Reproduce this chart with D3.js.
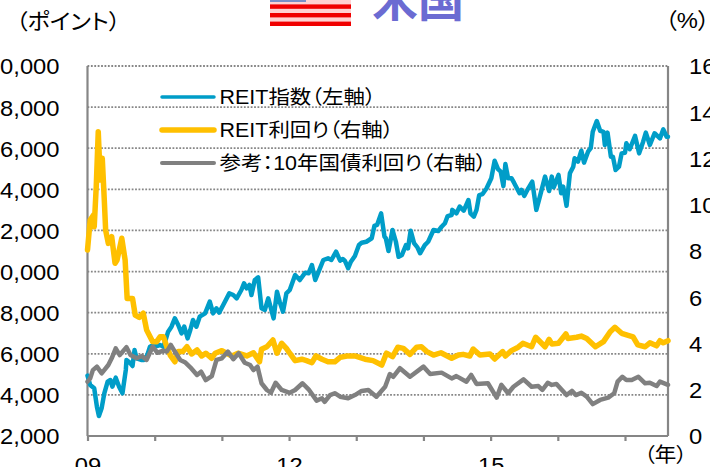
<!DOCTYPE html>
<html>
<head>
<meta charset="utf-8">
<script src="https://cdn.jsdelivr.net/npm/d3@7"></script>
<style>
  html, body { margin: 0; padding: 0; background: #fff; overflow: hidden; }
  svg { display: block; }
  text { font-family: "Liberation Sans", "Noto Sans CJK JP", sans-serif; fill: #000; }
  .jp { font-feature-settings: "palt"; }
  .domain { display: none; }
</style>
</head>
<body>
<svg id="chart" width="710" height="467"></svg>
<script>
// Times are years since the start of 2009.
const indexTimes = [0,.04,.10,.14,.17,.21,.25,.30,.34,.37,.42,.47,.52,.57,.58,.64,.67,.70,.73,.81,.84,.89,.93,.98,1.03,1.08,1.13,1.17,1.20,1.25,1.30,1.35,1.40,1.44,1.49,1.53,1.57,1.62,1.67,1.75,1.82,1.87,1.92,1.96,2.02,2.11,2.17,2.22,2.29,2.33,2.37,2.41,2.44,2.49,2.54,2.59,2.64,2.69,2.77,2.82,2.86,2.91,2.96,3.01,3.09,3.16,3.24,3.29,3.34,3.39,3.44,3.51,3.58,3.63,3.70,3.76,3.80,3.83,3.88,3.92,3.98,4.04,4.08,4.15,4.23,4.27,4.31,4.37,4.42,4.44,4.48,4.54,4.59,4.63,4.68,4.74,4.77,4.81,4.86,4.91,4.95,5.02,5.07,5.15,5.22,5.27,5.32,5.36,5.42,5.43,5.49,5.54,5.60,5.67,5.70,5.75,5.79,5.83,5.88,5.94,6.01,6.06,6.11,6.15,6.19,6.22,6.26,6.31,6.35,6.43,6.46,6.50,6.56,6.62,6.68,6.73,6.81,6.87,6.91,6.94,7.01,7.05,7.08,7.13,7.18,7.23,7.25,7.30,7.35,7.39,7.45,7.49,7.52,7.58,7.63,7.68,7.70,7.74,7.79,7.82,7.86,7.91,7.95,8.00,8.02,8.07,8.15,8.21,8.27,8.31,8.37,8.44,8.52,8.57,8.62,8.64];
const indexValues = [4935,4481,4319,3427,2973,3346,4076,4643,4724,4400,4838,4400,4076,5211,5697,5535,5405,6184,5778,5697,5697,5940,6346,6427,6378,6427,6346,6751,7076,7319,7724,7400,6995,7319,6751,7157,7643,7319,7805,7967,8535,7967,8211,8000,8373,8940,8859,8697,9103,9427,9184,9346,8859,9589,9719,8211,8130,8697,7724,9021,8535,8049,8940,9103,9832,9589,9946,9913,10319,9589,9994,10562,10643,10562,10967,10530,10610,10530,10160,10480,10760,11290,11400,11450,11620,12220,12270,12830,11700,11620,11000,12020,11450,10720,10810,11290,11130,11990,11380,11180,10890,11290,11450,12020,11970,12180,12350,12700,12750,13000,12830,13160,12960,13480,12830,12670,13000,13720,13770,14050,14540,15390,14980,14860,14160,15230,14540,14540,14310,13810,13970,13680,14050,14370,13000,13610,14620,13920,14620,14100,14700,13810,14130,13200,14780,15100,15510,15350,15880,15300,15830,16000,16800,17320,16850,16800,16160,16760,15590,15590,14940,15100,15750,15780,16240,15950,16600,15750,16320,16760,16160,16730,16480,16920,16560,16560];

const yieldTimes = [0,.04,.09,.10,.13,.16,.19,.22,.25,.27,.31,.36,.41,.44,.51,.56,.59,.67,.71,.77,.83,.88,.97,1.03,1.08,1.13,1.18,1.23,1.30,1.35,1.42,1.48,1.55,1.63,1.70,1.76,1.85,1.90,2.00,2.07,2.15,2.24,2.37,2.47,2.56,2.59,2.67,2.76,2.82,2.89,2.96,3.01,3.09,3.19,3.26,3.34,3.40,3.49,3.58,3.68,3.76,3.86,3.98,4.13,4.25,4.38,4.45,4.54,4.62,4.70,4.80,4.90,4.97,5.05,5.15,5.26,5.42,5.52,5.59,5.69,5.74,5.84,5.99,6.06,6.18,6.22,6.31,6.41,6.48,6.61,6.67,6.81,6.87,6.91,7.01,7.12,7.15,7.28,7.35,7.43,7.56,7.68,7.78,7.85,7.95,8.12,8.19,8.30,8.37,8.47,8.52,8.57,8.64];
const yieldValues = [8.04,9.34,9.56,9.05,10.78,13.16,11.07,12.01,10.2,8.9,8.33,8.62,7.47,7.61,8.55,7.61,5.95,5.95,5.23,5.13,5.31,4.58,4.08,4.08,4.29,4.29,3.86,3.50,3.21,3.65,3.65,3.86,3.55,3.72,3.46,3.58,3.36,3.58,3.69,3.58,3.46,3.58,3.46,3.60,3.21,3.75,3.86,4.15,3.58,4.01,3.79,3.58,3.26,3.32,3.26,3.17,3.46,3.32,3.21,3.21,3.40,3.46,3.46,3.32,3.26,3.07,3.58,3.43,3.84,3.79,3.53,3.84,3.86,3.65,3.50,3.60,3.36,3.50,3.53,3.46,3.76,3.50,3.55,3.33,3.65,3.46,3.69,3.84,4.01,3.86,4.27,3.86,4.18,3.98,4.01,4.41,4.22,4.27,4.32,4.22,3.86,4.08,4.51,4.70,4.44,4.29,3.94,3.86,4.03,3.90,4.12,4.03,4.12];

const bondTimes = [0,.04,.08,.14,.21,.31,.36,.42,.48,.58,.64,.73,.81,.88,.97,1.04,1.13,1.18,1.24,1.30,1.38,1.45,1.53,1.63,1.69,1.76,1.85,1.92,2.00,2.09,2.17,2.25,2.34,2.42,2.47,2.53,2.59,2.67,2.73,2.80,2.89,3.01,3.09,3.20,3.29,3.41,3.49,3.53,3.61,3.68,3.76,3.88,3.98,4.08,4.18,4.30,4.43,4.50,4.55,4.65,4.80,5.00,5.10,5.27,5.42,5.49,5.64,5.71,5.79,5.96,6.09,6.16,6.26,6.34,6.49,6.61,6.71,6.77,6.85,6.91,6.98,7.13,7.21,7.27,7.35,7.43,7.52,7.63,7.75,7.84,7.89,7.96,8.02,8.10,8.20,8.30,8.37,8.47,8.52,8.64];
const bondValues = [2.35,2.49,2.85,3.00,2.71,3.07,3.36,3.79,3.50,3.84,3.50,3.36,3.46,3.29,3.86,3.60,3.69,3.65,3.94,3.65,3.29,3.19,2.97,2.64,2.78,2.42,2.59,3.29,3.36,3.65,3.32,3.58,3.17,3.07,2.85,3.00,2.28,1.99,1.87,2.30,1.99,1.87,1.99,2.28,2.02,1.53,1.63,1.48,1.77,1.85,1.70,1.63,1.77,1.95,1.99,1.70,2.13,2.68,2.56,2.93,2.56,3.00,2.68,2.74,2.49,2.59,2.35,2.64,2.25,2.28,1.66,2.21,1.85,2.13,2.45,2.13,2.16,1.99,2.30,2.21,2.25,1.77,1.95,1.77,1.87,1.70,1.38,1.56,1.66,1.85,2.35,2.56,2.42,2.42,2.56,2.28,2.30,2.16,2.35,2.21];

const leftTicks = [2000,4000,6000,8000,10000,12000,14000,16000,18000,20000];
const rightTicks = [0,2,4,6,8,10,12,14,16];
const yearTicks = [0,1,2,3,4,5,6,7,8];
const yearLabels = {0: '09', 3: '12', 6: '15'};
const legendNames = ['REIT指数（左軸）', 'REIT利回り（右軸）', '参考：10年国債利回り（右軸）'];
const flagStripes = [0,1,2];

const axisColor = '#868686';
const colors = { index: '#009DC8', yield: '#FFC000', bond: '#808080' };
// The source picture is a little wider than it is tall, text included
const stretch = 'scale(1.08,1)';

const svg = d3.select('#chart');
const plot = { left: 87.5, right: 668, top: 66, bottom: 436 };

const x = d3.scaleLinear().domain([0, 8.64]).range([plot.left, plot.right]);
const yLeft = d3.scaleLinear().domain([2000, 20000]).range([plot.bottom, plot.top]);
const yRight = d3.scaleLinear().domain([0, 16]).range([plot.bottom, plot.top]);

// Dotted grid, every left axis tick except the baseline
svg.append('g')
  .selectAll('line')
  .data(leftTicks.slice(1))
  .join('line')
  .attr('x1', plot.left)
  .attr('x2', plot.right)
  .attr('y1', (d) => yLeft(d))
  .attr('y2', (d) => yLeft(d))
  .attr('stroke', axisColor)
  .attr('stroke-width', 1.8)
  .attr('stroke-dasharray', '1.8 1.6');

// Axis frame
[
  [plot.left, plot.top, plot.left, plot.bottom],
  [plot.right, plot.top, plot.right, plot.bottom],
  [plot.left, plot.bottom, plot.right, plot.bottom],
].forEach((p) => {
  svg.append('line')
    .attr('x1', p[0]).attr('y1', p[1])
    .attr('x2', p[2]).attr('y2', p[3])
    .attr('stroke', axisColor)
    .attr('stroke-width', 2.2);
});

const leftAxis = svg.append('g')
  .attr('transform', `translate(${plot.left},0)`)
  .call(d3.axisLeft(yLeft).tickValues(leftTicks).tickSize(0).tickFormat(d3.format(',')));
leftAxis.selectAll('text')
  .style('font-size', '22px')
  .attr('x', 0)
  .attr('dy', '0.36em')
  .attr('transform', `translate(-28,0) ${stretch}`);

const rightAxis = svg.append('g')
  .attr('transform', `translate(${plot.right},0)`)
  .call(d3.axisRight(yRight).tickValues(rightTicks).tickSize(0));
rightAxis.selectAll('text')
  .style('font-size', '22px')
  .attr('x', 0)
  .attr('dy', '0.36em')
  .attr('transform', `translate(21,0) ${stretch}`);

const bottomAxis = svg.append('g')
  .attr('transform', `translate(0,${plot.bottom})`)
  .call(d3.axisBottom(x).tickValues(yearTicks).tickSize(5).tickPadding(16)
    .tickFormat((d) => yearLabels[d] || ''));
bottomAxis.selectAll('line').attr('stroke', axisColor).attr('stroke-width', 2.2);
bottomAxis.selectAll('text').style('font-size', '22px').attr('transform', stretch);

function drawSeries(times, values, y, color, width) {
  const line = d3.line()
    .x((_d, i) => x(times[i]))
    .y((d) => y(d));
  svg.append('path')
    .attr('d', line(values))
    .attr('fill', 'none')
    .attr('stroke', color)
    .attr('stroke-width', width)
    .attr('stroke-linejoin', 'round')
    .attr('stroke-linecap', 'round');
}

drawSeries(indexTimes, indexValues, yLeft, colors.index, 4.5);
drawSeries(yieldTimes, yieldValues, yRight, colors.yield, 5.5);
drawSeries(bondTimes, bondValues, yRight, colors.bond, 4.5);

// Legend
const legendColors = [colors.index, colors.yield, colors.bond];
const legendWidths = [3.5, 5.5, 4];
const legendY = d3.scalePoint().domain(legendNames).range([97, 163]);
legendNames.forEach((name, i) => {
  svg.append('line')
    .attr('x1', 162).attr('x2', 214)
    .attr('y1', legendY(name)).attr('y2', legendY(name))
    .attr('stroke', legendColors[i])
    .attr('stroke-width', legendWidths[i])
    .attr('stroke-linecap', 'round');
  svg.append('text')
    .attr('class', 'jp')
    .attr('dy', '0.36em')
    .attr('transform', `translate(219.5,${legendY(name)}) scale(1.09,1)`)
    .style('font-size', '19.7px')
    .text(name);
});

// Unit labels
[['（ポイント）', 16, 29, 21.5], ['（%）', 665, 28, 22], ['（年）', 644, 462, 20]].forEach((u) => {
  svg.append('text')
    .attr('class', 'jp')
    .attr('transform', `translate(${u[1]},${u[2]}) ${stretch}`)
    .style('font-size', `${u[3]}px`)
    .text(u[0]);
});

// Title and flag, both cut by the top edge
svg.append('text')
  .attr('x', 372).attr('y', 16)
  .style('font-size', '46px').style('font-weight', 'bold')
  .style('font-family', '"Noto Sans CJK JP"')
  .style('fill', '#6B6BD2')
  .text('米国');

const flag = svg.append('g');
flag.append('rect').attr('x', 270).attr('y', 0).attr('width', 81).attr('height', 25.5).attr('fill', '#ffd2d2');
flag.selectAll('rect.stripe')
  .data(flagStripes)
  .join('rect')
  .attr('class', 'stripe')
  .attr('x', 270)
  .attr('width', 81)
  .attr('y', (d) => d * 8.6 + 4.4)
  .attr('height', 4.4)
  .attr('fill', '#f00000');
flag.append('rect').attr('x', 270).attr('y', 0).attr('width', 36).attr('height', 2).attr('fill', '#7a90c8');
</script>
</body>
</html>
